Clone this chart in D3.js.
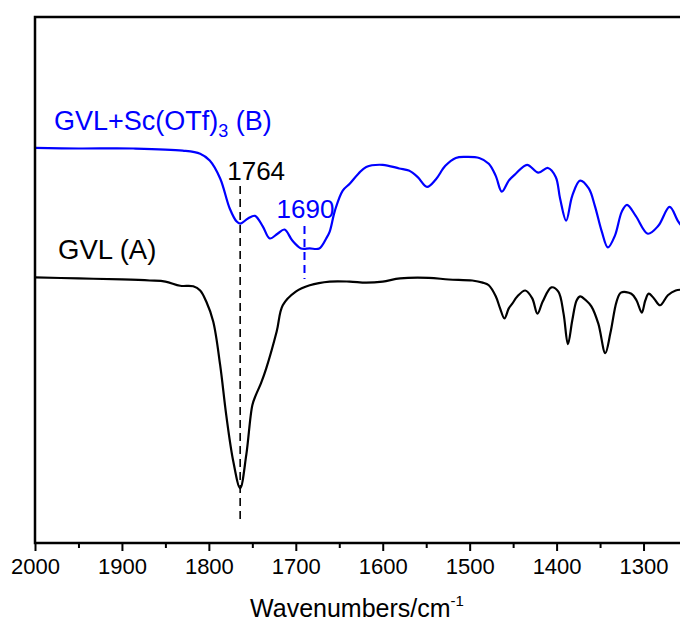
<!DOCTYPE html>
<html>
<head>
<meta charset="utf-8">
<script src="https://cdn.jsdelivr.net/npm/d3@7"></script>
<style>
  body { margin:0; background:#fff; }
  svg text { font-family: "Liberation Sans", Arial, sans-serif; }
</style>
</head>
<body>
<script>
// wavenumber (cm-1) and transmittance (a.u.)
var wnA = [2000,1950,1900,1868,1850,1833,1818,1810,1803,1795,1787,1780,1772,1764,1757,1750,1746,1740,1734,1722,1715,1700,1684,1661,1638,1619,1600,1580,1547,1524,1497,1485,1478,1470,1465,1460,1455,1451,1445,1436,1428,1422,1416,1406,1398,1392,1387,1382,1377,1373,1366,1360,1352,1344,1338,1331,1326,1314,1308,1302,1298,1294,1288,1281,1272,1263,1250];
var tA  = [5.05,5.03,5.01,4.99,4.97,4.89,4.88,4.80,4.59,4.21,3.38,2.43,1.56,1.04,1.67,2.62,2.81,3.04,3.32,4.02,4.52,4.78,4.90,4.97,4.97,4.95,4.97,5.03,5.04,5.01,4.99,4.95,4.90,4.69,4.46,4.27,4.46,4.55,4.69,4.80,4.65,4.36,4.59,4.86,4.78,4.36,3.78,4.23,4.61,4.69,4.61,4.50,4.17,3.61,4.00,4.59,4.76,4.74,4.61,4.38,4.61,4.74,4.65,4.52,4.71,4.80,4.82];

var wnB = [2000,1950,1887,1830,1810,1799,1787,1776,1768,1764,1755,1747,1738,1730,1721,1713,1704,1694,1684,1673,1665,1661,1655,1646,1638,1628,1619,1600,1581,1570,1560,1549,1539,1528,1516,1505,1489,1478,1470,1463,1455,1447,1434,1421,1410,1401,1396,1389,1382,1373,1363,1356,1348,1341,1333,1325,1319,1309,1295,1283,1270,1260,1250];
var tB  = [7.51,7.50,7.50,7.46,7.40,7.27,6.93,6.36,6.11,6.07,6.17,6.22,6.02,5.79,5.88,5.96,5.75,5.60,5.60,5.60,5.79,5.92,6.32,6.70,6.83,7.02,7.15,7.19,7.12,7.08,6.96,6.77,6.91,7.17,7.32,7.34,7.32,7.21,6.98,6.68,6.89,7.02,7.19,7.04,7.13,6.96,6.55,6.13,6.60,6.89,6.74,6.41,5.92,5.62,5.84,6.30,6.43,6.22,5.88,6.03,6.39,6.11,5.90];

var xTicks = [2000,1900,1800,1700,1600,1500,1400,1300];
var xMinor = [1950,1850,1750,1650,1550,1450,1350,1250];

var peakA = 1764, peakB = 1690;

var W = 680, H = 626;
var mLeft = 35, mRight = 687, mTop = 17, mBottom = 543;

var svg = d3.select('body').append('svg').attr('width', W).attr('height', H);

var x = d3.scaleLinear().domain([2000,1250]).range([mLeft,mRight]);
var y = d3.scaleLinear().domain([0,10]).range([mBottom,mTop]);

var line = d3.line()
  .x(function(d){ return x(d[0]); })
  .y(function(d){ return y(d[1]); })
  .curve(d3.curveCatmullRom.alpha(0.5));

// dashed markers
svg.append('line')
  .attr('x1', x(peakA)).attr('x2', x(peakA))
  .attr('y1', 186).attr('y2', 522)
  .attr('stroke','#000').attr('stroke-width',1.6).attr('stroke-dasharray','8,5');
svg.append('line')
  .attr('x1', x(peakB)).attr('x2', x(peakB))
  .attr('y1', 226).attr('y2', 279)
  .attr('stroke','#0000ff').attr('stroke-width',2).attr('stroke-dasharray','8,5');

svg.append('path')
  .datum(d3.zip(wnA, tA))
  .attr('d', line).attr('fill','none').attr('stroke','#000').attr('stroke-width',2.2);
svg.append('path')
  .datum(d3.zip(wnB, tB))
  .attr('d', line).attr('fill','none').attr('stroke','#0000ff').attr('stroke-width',2.2);

// axis
var ax = svg.append('g').attr('transform','translate(0,'+mBottom+')')
  .call(d3.axisBottom(x).tickValues(xTicks).tickSize(8).tickPadding(7).tickFormat(d3.format('d')));
ax.select('.domain').remove();
ax.selectAll('line').attr('stroke-width',2);
ax.selectAll('text').attr('font-size',22).attr('fill','#000')
  .style('font-family','"Liberation Sans", Arial, sans-serif');
svg.append('g').attr('transform','translate(0,'+mBottom+')')
  .call(d3.axisBottom(x).tickValues(xMinor).tickSize(5).tickFormat(''))
  .call(function(g){ g.select('.domain').remove(); g.selectAll('line').attr('stroke-width',2); });

// frame
svg.append('path')
  .attr('d', 'M'+(W+5)+','+mTop+'H'+mLeft+'V'+mBottom+'H'+(W+5))
  .attr('fill','none').attr('stroke','#000').attr('stroke-width',2.5);

// axis title
var tt = svg.append('text').attr('x',357).attr('y',617).attr('text-anchor','middle').attr('font-size',25);
tt.append('tspan').text('Wavenumbers/cm');
tt.append('tspan').text('-1').attr('font-size',15).attr('dy',-11);

// labels
var lb = svg.append('text').attr('x',54).attr('y',130).attr('font-size',27).attr('fill','#0000ff');
lb.append('tspan').text('GVL+Sc(OTf)');
lb.append('tspan').text('3').attr('font-size',18).attr('dy',7);
lb.append('tspan').text(' (B)').attr('dy',-7);

svg.append('text').attr('x',58).attr('y',259).attr('font-size',27.5).text('GVL (A)');
svg.append('text').attr('x',x(peakA)+16).attr('y',180).attr('font-size',26).attr('text-anchor','middle').text(peakA);
svg.append('text').attr('x',x(peakB)+1).attr('y',218).attr('font-size',26).attr('text-anchor','middle').attr('fill','#0000ff').text(peakB);
</script>
</body>
</html>
